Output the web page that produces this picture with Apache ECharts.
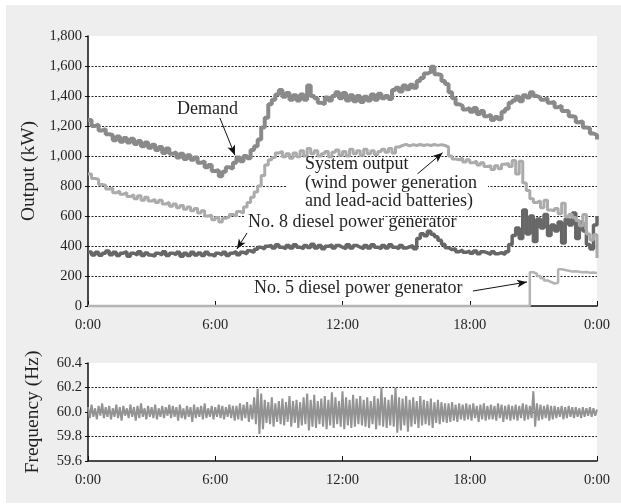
<!DOCTYPE html>
<html>
<head>
<meta charset="utf-8">
<script src="https://cdn.jsdelivr.net/npm/echarts@6/dist/echarts.min.js"></script>
<style>
  html, body { margin: 0; padding: 0; background: #ffffff; }
  #panel { position: absolute; left: 6px; top: 5px; width: 615px; height: 498px; background: #eeeeee; }
  #chart { position: absolute; left: 0; top: 0; width: 621px; height: 504px; }
</style>
</head>
<body>
<div id="panel"></div>
<div id="chart"></div>
<script>
// One day of island-grid operation, sampled every 10 minutes (power) and every 5 minutes (frequency).
const timeTickLabels = ['0:00', '6:00', '12:00', '18:00', '0:00'];

// Demand (kW), 0:00 .. 24:00, six values per hour
const demand = [
  1240, 1200, 1210, 1170, 1180, 1145,
  1140, 1105, 1130, 1095, 1120, 1090,
  1115, 1080, 1100, 1065, 1090, 1055,
  1075, 1040, 1060, 1020, 1050, 1015,
  1025, 990, 1015, 980, 1005, 975,
  990, 955, 965, 925, 940, 900,
  905, 865, 895, 925, 915, 955,
  990, 965, 1000, 985, 1040, 1065,
  1110, 1190, 1255, 1345, 1375, 1410,
  1440, 1395, 1420, 1375, 1405, 1370,
  1410, 1375, 1470, 1400, 1385, 1355,
  1345, 1390, 1370, 1400, 1425, 1385,
  1420, 1370, 1405, 1365, 1400, 1360,
  1395, 1370, 1410, 1375, 1415, 1385,
  1400, 1380, 1440, 1455, 1430, 1470,
  1445, 1475, 1455, 1500, 1520, 1550,
  1560, 1595, 1545, 1540, 1500, 1480,
  1425, 1385, 1345, 1335, 1310, 1320,
  1295, 1320, 1280, 1300, 1265, 1275,
  1240, 1260, 1245, 1295, 1315, 1355,
  1370, 1395, 1365, 1405, 1390, 1425,
  1400, 1390, 1375, 1385, 1355, 1360,
  1325, 1335, 1300, 1300, 1265, 1260,
  1225, 1230, 1190, 1185, 1150, 1140,
  1110
];

// System output: wind power generation and lead-acid batteries (kW)
const systemOutput = [
  880, 850, 845, 810, 805, 780,
  785, 755, 765, 745, 755, 730,
  740, 715, 735, 705, 725, 700,
  710, 690, 705, 680, 690, 665,
  680, 655, 670, 645, 660, 635,
  650, 620, 635, 600, 605, 575,
  590, 560, 585, 595, 610, 600,
  630, 620, 660, 690, 725, 760,
  800, 870, 940, 975, 990, 1020,
  1030, 995, 1015, 985, 1020, 995,
  1035, 1000, 1050, 1015, 1035, 1000,
  1015, 1030, 995, 1025, 1040, 1005,
  1030, 1000, 1045, 1015, 1035, 1005,
  1045, 1015, 1035, 1010, 1030, 1045,
  1025, 1050, 1020, 1060, 1070, 1078,
  1068, 1076, 1070, 1077, 1070, 1076,
  1070, 1077, 1071, 1076, 1070, 1060,
  1000, 980, 975, 985, 960, 975,
  955, 965, 940, 955, 930, 935,
  910, 935, 915, 945, 950, 930,
  970, 880, 965, 820, 770, 715,
  690, 700, 655, 705, 640, 635,
  650, 615, 685, 595, 610, 590,
  570, 535, 610, 480, 440, 475,
  320
];

// No. 8 diesel power generator (kW)
const diesel8 = [
  360, 340, 358, 338, 352, 366,
  342, 358, 336, 352, 362, 332,
  352, 340, 362, 336, 354, 340,
  332, 352, 340, 362, 336, 352,
  342, 358, 332, 352, 336, 358,
  340, 354, 336, 358, 342, 332,
  352, 340, 358, 336, 352, 362,
  342, 358, 348, 368, 358, 378,
  392, 380, 398, 404, 386, 408,
  392, 382, 404, 386, 408, 392,
  382, 404, 390, 412, 386, 404,
  382, 398, 408, 386, 404, 392,
  382, 408, 386, 404, 392, 382,
  404, 386, 408, 392, 382, 404,
  386, 408, 392, 382, 404, 386,
  395, 402, 382, 450, 482, 468,
  498, 478, 462, 438, 412, 388,
  376, 382, 362, 372, 358, 366,
  352, 366, 348, 362, 354, 344,
  362, 348, 356, 344, 362, 410,
  470, 520, 450, 640, 480, 600,
  430, 580, 520, 610, 470, 540,
  500, 560, 420, 580, 540, 620,
  450, 560, 500, 410, 380, 540,
  600
];

// No. 5 diesel power generator (kW): off until the evening start-up
const diesel5 = [
  0, 0, 0, 0, 0, 0,  0, 0, 0, 0, 0, 0,  0, 0, 0, 0, 0, 0,  0, 0, 0, 0, 0, 0,
  0, 0, 0, 0, 0, 0,  0, 0, 0, 0, 0, 0,  0, 0, 0, 0, 0, 0,  0, 0, 0, 0, 0, 0,
  0, 0, 0, 0, 0, 0,  0, 0, 0, 0, 0, 0,  0, 0, 0, 0, 0, 0,  0, 0, 0, 0, 0, 0,
  0, 0, 0, 0, 0, 0,  0, 0, 0, 0, 0, 0,  0, 0, 0, 0, 0, 0,  0, 0, 0, 0, 0, 0,
  0, 0, 0, 0, 0, 0,  0, 0, 0, 0, 0, 0,  0, 0, 0, 0, 0, 0,  0, 0, 0, 0, 0, 0,
  0, 0, 0, 0, 0, 225,
  215, 200, 185, 170, 160, 150,
  155, 245, 240, 235, 230, 232,
  228, 225, 226, 222, 224, 220,
  218
];

// Grid frequency (Hz), twelve values per hour
const frequency = [
  60.04, 59.95, 60.06, 59.96, 60.03, 59.94, 60.05, 59.97, 60.07, 59.95, 60.04, 59.96,
  60.05, 59.94, 60.03, 59.96, 60.06, 59.95, 60.04, 59.93, 60.05, 59.97, 60.03, 59.95,
  60.06, 59.96, 60.04, 59.93, 60.05, 59.95, 60.07, 59.96, 60.03, 59.94, 60.05, 59.96,
  60.04, 59.95, 60.06, 59.94, 60.03, 59.96, 60.05, 59.95, 60.04, 59.97, 60.06, 59.95,
  60.05, 59.96, 60.04, 59.93, 60.06, 59.95, 60.03, 59.94, 60.05, 59.96, 60.04, 59.92,
  60.06, 59.95, 60.04, 59.96, 60.05, 59.94, 60.07, 59.95, 60.03, 59.96, 60.05, 59.94,
  60.04, 59.96, 60.06, 59.95, 60.05, 59.94, 60.04, 59.96, 60.06, 59.95, 60.05, 59.93,
  60.05, 59.94, 60.07, 59.93, 60.06, 59.95, 60.08, 59.92, 60.06, 59.94, 60.12, 59.90,
  60.19, 59.82, 60.15, 59.86, 60.10, 59.91, 60.08, 59.90, 60.12, 59.88, 60.07, 59.92,
  60.09, 59.90, 60.11, 59.89, 60.08, 59.92, 60.13, 59.88, 60.09, 59.91, 60.10, 59.87,
  60.08, 59.89, 60.12, 59.90, 60.15, 59.85, 60.10, 59.88, 60.14, 59.87, 60.09, 59.90,
  60.11, 59.88, 60.13, 59.86, 60.10, 59.89, 60.16, 59.87, 60.12, 59.90, 60.09, 59.88,
  60.17, 59.86, 60.12, 59.89, 60.10, 59.87, 60.14, 59.88, 60.11, 59.90, 60.13, 59.89,
  60.10, 59.88, 60.12, 59.87, 60.09, 59.90, 60.13, 59.86, 60.11, 59.89, 60.20, 59.88,
  60.12, 59.87, 60.10, 59.89, 60.14, 59.88, 60.20, 59.83, 60.12, 59.85, 60.11, 59.89,
  60.13, 59.84, 60.10, 59.88, 60.12, 59.90, 60.09, 59.87, 60.13, 59.89, 60.10, 59.90,
  60.09, 59.89, 60.11, 59.87, 60.08, 59.91, 60.10, 59.90, 60.08, 59.92, 60.07, 59.91,
  60.07, 59.92, 60.08, 59.93, 60.06, 59.92, 60.07, 59.94, 60.06, 59.93, 60.07, 59.94,
  60.06, 59.93, 60.07, 59.95, 60.05, 59.92, 60.06, 59.94, 60.07, 59.93, 60.05, 59.94,
  60.06, 59.94, 60.05, 59.93, 60.07, 59.95, 60.06, 59.92, 60.05, 59.94, 60.06, 59.93,
  60.05, 59.94, 60.06, 59.93, 60.05, 59.95, 60.07, 59.93, 60.06, 59.94, 60.05, 59.95,
  60.17, 59.88, 60.07, 59.93, 60.06, 59.94, 60.05, 59.95, 60.06, 59.93, 60.05, 59.94,
  60.05, 59.95, 60.04, 59.96, 60.05, 59.94, 60.04, 59.95, 60.05, 59.96, 60.04, 59.95,
  60.04, 59.96, 60.03, 59.95, 60.04, 59.96, 60.03, 59.97, 60.04, 59.96, 60.03, 59.97,
  60.02
];

// Leader arrows for the curve labels, in chart units: [hour, value] tail -> tip
const demandArrow = [[6.22, 1253], [6.93, 1005]];
const systemArrow = [[15.53, 880], [16.72, 1022]];
const diesel8Arrow = [[7.50, 487], [7.02, 380]];
const diesel5Arrow = [[18.15, 100], [20.70, 160]];

const POWER_STEP_H = 10 / 60;
const FREQ_STEP_H = 5 / 60;
const withHours = (values, step) => values.map((v, i) => [i * step, v]);

const SERIF = '"Liberation Serif", "Times New Roman", serif';
const INK = '#231f20';

const timeLabel = v => timeTickLabels[Math.round(v / 6)];
const thousands = v => v >= 1000 ? Math.floor(v / 1000) + ',' + String(v % 1000).padStart(3, '0') : String(v);

function leader(points) {
  return {
    silent: true,
    animation: false,
    symbol: ['none', 'arrow'],
    symbolSize: [6, 10],
    label: { show: false },
    emphasis: { disabled: true },
    lineStyle: { color: '#111', width: 1, type: 'solid' },
    data: [[{ coord: points[0] }, { coord: points[1] }]]
  };
}

function xAxisFor(gridIndex) {
  return {
    type: 'value', gridIndex, min: 0, max: 24, interval: 6,
    axisLine: { show: true, onZero: false, lineStyle: { color: '#111', width: 1.5 } },
    axisTick: { show: true, inside: true, length: 5, lineStyle: { color: '#111', width: 1 } },
    axisLabel: { formatter: timeLabel, color: INK, fontSize: 14.5, fontFamily: SERIF, margin: 12 },
    splitLine: { show: false }
  };
}

function yAxisFor(gridIndex, extra) {
  return Object.assign({
    type: 'value', gridIndex, z: 3,
    nameLocation: 'middle', nameGap: 45,
    nameTextStyle: { fontSize: 19.5, color: INK, fontFamily: SERIF },
    axisLine: { show: true, lineStyle: { color: '#111', width: 1.5 } },
    axisTick: { show: true, length: 3, lineStyle: { color: '#111', width: 1 } },
    axisLabel: { color: INK, fontSize: 14.5, fontFamily: SERIF, margin: 6 },
    splitLine: {
      show: true, showMinLine: false, showMaxLine: false,
      lineStyle: { color: '#222', width: 1, type: [2, 1.5] }
    }
  }, extra);
}

const chart = echarts.init(document.getElementById('chart'), null, { renderer: 'canvas' });

chart.setOption({
  animation: false,
  backgroundColor: 'transparent',
  textStyle: { fontFamily: SERIF },
  grid: [
    { left: 88, top: 36, width: 509, height: 270, show: true, backgroundColor: '#ffffff', borderWidth: 0 },
    { left: 88, top: 363, width: 509, height: 98, show: true, backgroundColor: '#ffffff', borderWidth: 0 }
  ],
  xAxis: [xAxisFor(0), xAxisFor(1)],
  yAxis: [
    yAxisFor(0, {
      name: 'Output (kW)', min: 0, max: 1800, interval: 200,
      axisLabel: { color: INK, fontSize: 14.5, fontFamily: SERIF, margin: 6, formatter: thousands }
    }),
    yAxisFor(1, {
      name: 'Frequency (Hz)', min: 59.6, max: 60.4, interval: 0.2,
      axisLabel: { color: INK, fontSize: 14.5, fontFamily: SERIF, margin: 6, formatter: v => v.toFixed(1) }
    })
  ],
  series: [
    {
      name: 'No. 5 diesel power generator', type: 'line', xAxisIndex: 0, yAxisIndex: 0,
      data: withHours(diesel5, POWER_STEP_H), step: 'end', showSymbol: false, clip: false,
      lineStyle: { color: '#b4b4b4', width: 2.5 }, markLine: leader(diesel5Arrow)
    },
    {
      name: 'No. 8 diesel power generator', type: 'line', xAxisIndex: 0, yAxisIndex: 0,
      data: withHours(diesel8, POWER_STEP_H), step: 'end', showSymbol: false,
      lineStyle: { color: '#676767', width: 3.5 }, markLine: leader(diesel8Arrow)
    },
    {
      name: 'System output', type: 'line', xAxisIndex: 0, yAxisIndex: 0,
      data: withHours(systemOutput, POWER_STEP_H), step: 'end', showSymbol: false,
      lineStyle: { color: '#ababab', width: 3 }, markLine: leader(systemArrow)
    },
    {
      name: 'Demand', type: 'line', xAxisIndex: 0, yAxisIndex: 0,
      data: withHours(demand, POWER_STEP_H), step: 'end', showSymbol: false,
      lineStyle: { color: '#8a8a8a', width: 4 }, markLine: leader(demandArrow)
    },
    {
      name: 'Frequency', type: 'line', xAxisIndex: 1, yAxisIndex: 1,
      data: withHours(frequency, FREQ_STEP_H), step: 'end', showSymbol: false,
      lineStyle: { color: '#939393', width: 2 }
    }
  ],
  graphic: [
    { type: 'rect', z: 9, shape: { x: 287, y: 174, width: 201, height: 36 }, style: { fill: '#ffffff' } },
    { type: 'rect', z: 9, shape: { x: 245, y: 213, width: 138, height: 6 }, style: { fill: '#ffffff' } },
    { type: 'text', z: 10, style: { x: 177, y: 109, text: 'Demand', font: '18px ' + SERIF, fill: INK, textVerticalAlign: 'middle' } },
    { type: 'text', z: 10, style: { x: 305, y: 164, text: 'System output', font: '18px ' + SERIF, fill: INK, textVerticalAlign: 'middle' } },
    { type: 'text', z: 10, style: { x: 305, y: 183, text: '(wind power generation', font: '18px ' + SERIF, fill: INK, textVerticalAlign: 'middle' } },
    { type: 'text', z: 10, style: { x: 305, y: 201, text: 'and lead-acid batteries)', font: '18px ' + SERIF, fill: INK, textVerticalAlign: 'middle' } },
    { type: 'text', z: 10, style: { x: 248, y: 222, text: 'No. 8 diesel power generator', font: '18px ' + SERIF, fill: INK, textVerticalAlign: 'middle' } },
    { type: 'text', z: 10, style: { x: 254, y: 288, text: 'No. 5 diesel power generator', font: '18px ' + SERIF, fill: INK, textVerticalAlign: 'middle' } }
  ]
});
</script>
</body>
</html>
